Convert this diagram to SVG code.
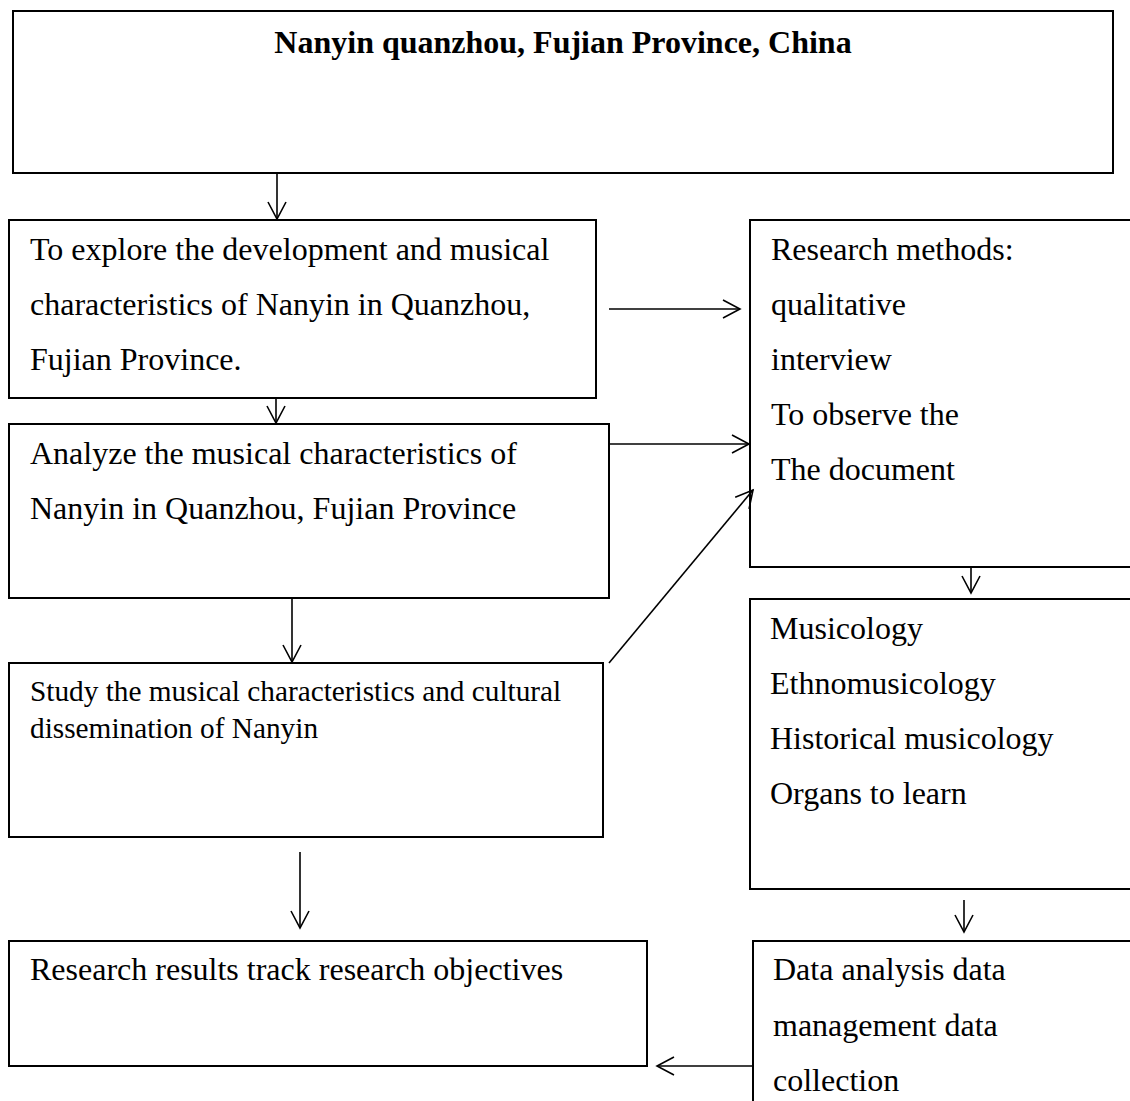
<svg xmlns="http://www.w3.org/2000/svg" width="1130" height="1101" viewBox="0 0 1130 1101">
<style>
  .box { fill: #ffffff; stroke: #000000; stroke-width: 2; }
  .t { font-family: "Liberation Serif", "Times New Roman", serif; font-size: 32px; fill: #000000; }
  .ts { font-family: "Liberation Serif", "Times New Roman", serif; font-size: 29.3px; fill: #000000; }
  .tb { font-family: "Liberation Serif", "Times New Roman", serif; font-size: 32px; font-weight: bold; fill: #000000; }
  .c { stroke: #000000; stroke-width: 1.6; fill: none; marker-end: url(#arr); }
</style>
<defs>
  <marker id="arr" viewBox="-20 -12 24 24" refX="0" refY="0" markerWidth="24" markerHeight="24" markerUnits="userSpaceOnUse" orient="auto">
    <path d="M-17,-9 L0,0 L-17,9" fill="none" stroke="#000000" stroke-width="1.6"/>
  </marker>
</defs>
<rect width="1130" height="1101" fill="#ffffff"/>

<g id="node-top">
  <rect class="box" x="13" y="11" width="1100" height="162"/>
  <text class="tb" x="563" y="53" text-anchor="middle">Nanyin quanzhou, Fujian Province, China</text>
</g>

<g id="node-explore">
  <rect class="box" x="9" y="220" width="587" height="178"/>
  <text class="t" x="30" y="260">To explore the development and musical</text>
  <text class="t" x="30" y="315">characteristics of Nanyin in Quanzhou,</text>
  <text class="t" x="30" y="370">Fujian Province.</text>
</g>

<g id="node-methods">
  <rect class="box" x="750" y="220" width="400" height="347"/>
  <text class="t" x="771" y="260">Research methods:</text>
  <text class="t" x="771" y="315">qualitative</text>
  <text class="t" x="771" y="370">interview</text>
  <text class="t" x="771" y="425">To observe the</text>
  <text class="t" x="771" y="480">The document</text>
</g>

<g id="node-analyze">
  <rect class="box" x="9" y="424" width="600" height="174"/>
  <text class="t" x="30" y="464">Analyze the musical characteristics of</text>
  <text class="t" x="30" y="519">Nanyin in Quanzhou, Fujian Province</text>
</g>

<g id="node-study">
  <rect class="box" x="9" y="663" width="594" height="174"/>
  <text class="ts" x="30" y="701">Study the musical characteristics and cultural</text>
  <text class="ts" x="30" y="738">dissemination of Nanyin</text>
</g>

<g id="node-disciplines">
  <rect class="box" x="750" y="599" width="400" height="290"/>
  <text class="t" x="770" y="639">Musicology</text>
  <text class="t" x="770" y="694">Ethnomusicology</text>
  <text class="t" x="770" y="749">Historical musicology</text>
  <text class="t" x="770" y="804">Organs to learn</text>
</g>

<g id="node-results">
  <rect class="box" x="9" y="941" width="638" height="125"/>
  <text class="t" x="30" y="980">Research results track research objectives</text>
</g>

<g id="node-data">
  <rect class="box" x="753" y="941" width="400" height="200"/>
  <text class="t" x="773" y="980">Data analysis data</text>
  <text class="t" x="773" y="1036">management data</text>
  <text class="t" x="773" y="1091">collection</text>
</g>

<g id="connectors">
  <line class="c" x1="277" y1="173" x2="277" y2="219"/>
  <line class="c" x1="609" y1="309" x2="740" y2="309"/>
  <line class="c" x1="276" y1="398" x2="276" y2="423"/>
  <line class="c" x1="609" y1="444" x2="749" y2="444"/>
  <line class="c" x1="609" y1="663" x2="753" y2="490"/>
  <line class="c" x1="292" y1="599" x2="292" y2="662"/>
  <line class="c" x1="971" y1="567" x2="971" y2="593"/>
  <line class="c" x1="300" y1="852" x2="300" y2="928"/>
  <line class="c" x1="964" y1="900" x2="964" y2="932"/>
  <line class="c" x1="753" y1="1066" x2="657" y2="1066"/>
</g>
</svg>
